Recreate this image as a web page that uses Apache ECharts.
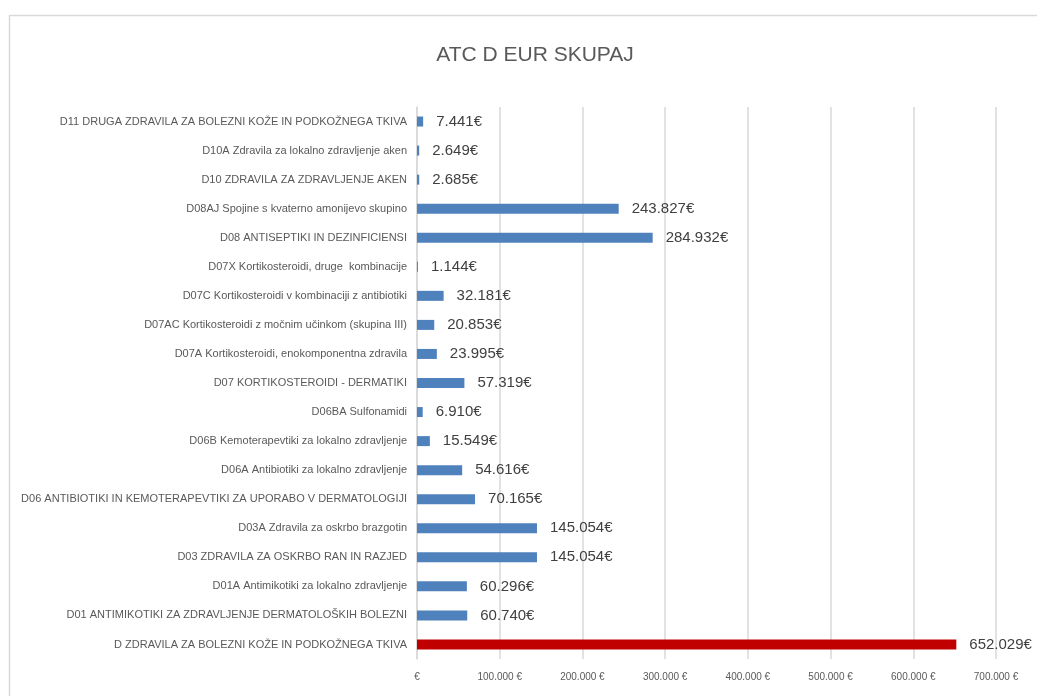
<!DOCTYPE html>
<html>
<head>
<meta charset="utf-8">
<script src="https://cdn.jsdelivr.net/npm/echarts@6/dist/echarts.min.js"></script>
<style>
  html, body { margin: 0; padding: 0; background: #fff; }
  #chart { width: 1037px; height: 696px; }
</style>
</head>
<body>
<div id="chart"></div>
<script>
// categories, top to bottom
const categories = [
    'D11 DRUGA ZDRAVILA ZA BOLEZNI KOŽE IN PODKOŽNEGA TKIVA',
    'D10A Zdravila za lokalno zdravljenje aken',
    'D10 ZDRAVILA ZA ZDRAVLJENJE AKEN',
    'D08AJ Spojine s kvaterno amonijevo skupino',
    'D08 ANTISEPTIKI IN DEZINFICIENSI',
    'D07X Kortikosteroidi, druge  kombinacije',
    'D07C Kortikosteroidi v kombinaciji z antibiotiki',
    'D07AC Kortikosteroidi z močnim učinkom (skupina III)',
    'D07A Kortikosteroidi, enokomponentna zdravila',
    'D07 KORTIKOSTEROIDI - DERMATIKI',
    'D06BA Sulfonamidi',
    'D06B Kemoterapevtiki za lokalno zdravljenje',
    'D06A Antibiotiki za lokalno zdravljenje',
    'D06 ANTIBIOTIKI IN KEMOTERAPEVTIKI ZA UPORABO V DERMATOLOGIJI',
    'D03A Zdravila za oskrbo brazgotin',
    'D03 ZDRAVILA ZA OSKRBO RAN IN RAZJED',
    'D01A Antimikotiki za lokalno zdravljenje',
    'D01 ANTIMIKOTIKI ZA ZDRAVLJENJE DERMATOLOŠKIH BOLEZNI',
    'D ZDRAVILA ZA BOLEZNI KOŽE IN PODKOŽNEGA TKIVA'
];
const values = [
    7441, 2649, 2685, 243827, 284932, 1144, 32181, 20853, 23995, 57319,
    6910, 15549, 54616, 70165, 145054, 145054, 60296, 60740, 652029
];
const totalCategory = 'D ZDRAVILA ZA BOLEZNI KOŽE IN PODKOŽNEGA TKIVA';

const axisMin = 0;
const axisMax = 700000;
const axisStep = 100000;

function fmt(v) {
    return String(v).replace(/\B(?=(\d{3})+(?!\d))/g, '.');
}

const chart = echarts.init(document.getElementById('chart'));
chart.setOption({
    animation: false,
    textStyle: { fontFamily: 'Liberation Sans, Arial, sans-serif' },
    graphic: [{
        type: 'rect',
        shape: { x: 9.5, y: 15.5, width: 1200, height: 900 },
        style: { fill: 'none', stroke: '#d9d9d9', lineWidth: 1.5 },
        silent: true
    }],
    title: {
        text: 'ATC D EUR SKUPAJ',
        left: 530,
        textAlign: 'center',
        top: 40,
        textStyle: { fontSize: 21, fontWeight: 'normal', color: '#595959', fontFamily: 'Liberation Sans, Arial, sans-serif' }
    },
    grid: { left: 417, right: 41, top: 107, bottom: 37, containLabel: false },
    xAxis: {
        type: 'value',
        min: axisMin, max: axisMax, interval: axisStep,
        axisLine: { show: false },
        axisTick: { show: false },
        splitLine: { lineStyle: { color: '#d9d9d9', width: 1.5 } },
        axisLabel: {
            margin: 13,
            fontSize: 10,
            color: '#595959',
            formatter: v => v === 0 ? '€' : fmt(v) + ' €'
        }
    },
    yAxis: {
        type: 'category',
        inverse: true,
        data: categories,
        axisLine: { show: true, lineStyle: { color: '#d9d9d9', width: 1.5 } },
        axisTick: { show: false },
        axisLabel: { margin: 10, fontSize: 11, color: '#595959' }
    },
    series: [{
        type: 'bar',
        data: values,
        barWidth: 10,
        itemStyle: {
            color: p => categories[p.dataIndex] === totalCategory ? '#c00000' : '#4f81bd'
        },
        label: {
            show: true,
            position: 'right',
            distance: 13,
            fontSize: 15,
            color: '#404040',
            formatter: p => fmt(p.value) + '€'
        }
    }]
});
window.onresize = () => chart.resize();
</script>
</body>
</html>
